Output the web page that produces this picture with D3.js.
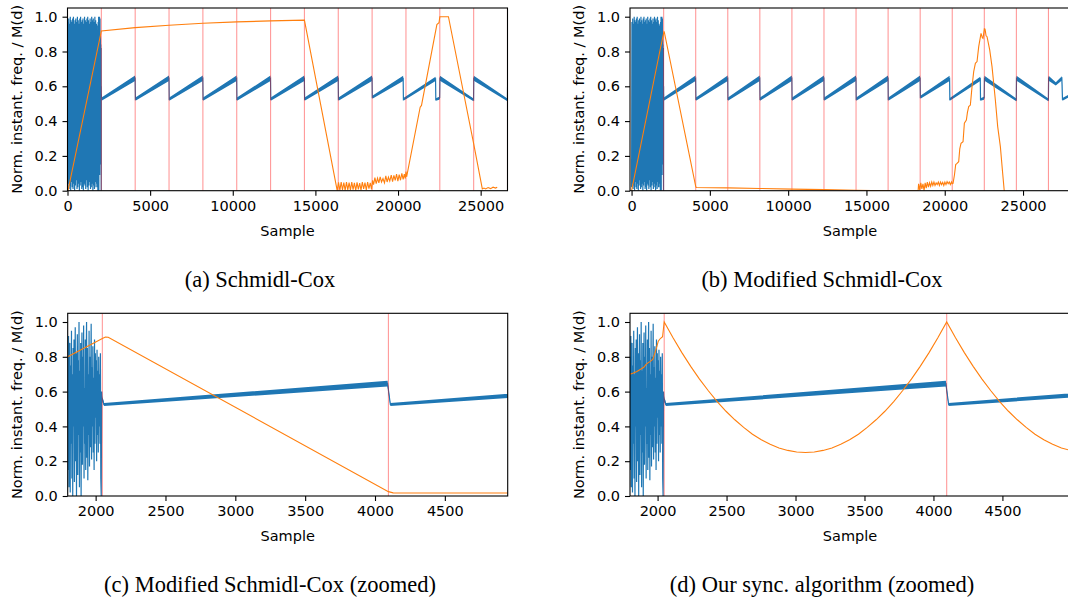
<!DOCTYPE html>
<html>
<head>
<meta charset="utf-8">
<title>sync comparison</title>
<script src="https://d3js.org/d3.v7.min.js"></script>
<style>
  body { margin: 0; background: #fff; }
  text { font-family: "DejaVu Sans", sans-serif; }
  .caption { font-family: "Liberation Serif", "Times New Roman", serif; }
</style>
</head>
<body>
<script>
// ---- data ----
var yTicks = [0, 0.2, 0.4, 0.6, 0.8, 1.0];
var xTicksFull = [0, 5000, 10000, 15000, 20000, 25000];
var xTicksZoom = [2000, 2500, 3000, 3500, 4000, 4500];
var syncMarks = [2048, 4096, 6144, 8192, 10240, 12288, 14336, 16384, 18432, 20480, 22528, 24576, 26624];
var captions = ["(a) Schmidl-Cox", "(b) Modified Schmidl-Cox",
                "(c) Modified Schmidl-Cox (zoomed)", "(d) Our sync. algorithm (zoomed)"];

// blue: noisy preamble, sampled every 24 samples from 0
var noiseEarlyStep = 24;
var noiseEarly = [0.02,0.97,0.04,0.99,0.01,0.96,0.03,1.00,0.00,0.98,
                  0.05,0.97,0.02,0.99,0.01,1.00,0.04,0.96,0.00,0.98,
                  0.03,0.99,0.06,0.97,0.01,1.00,0.02,0.98,0.04,0.96,
                  0.00,0.99,0.03,1.00,0.05,0.97,0.01,0.98,0.02,0.99,
                  0.00,0.96,0.04,1.00,0.03,0.98,0.01,0.97,0.06,0.99,
                  0.02,1.00,0.00,0.98,0.03,0.96,0.05,0.99,0.01,0.97,
                  0.02,1.00,0.04,0.98,0.00,0.99,0.03,0.97,0.01,1.00,
                  0.05,0.98,0.02,0.96,0.04];
// blue: noisy preamble tail (seen in the zoomed panels), every 3 samples from 1800
var noiseLateStart = 1800, noiseLateStep = 3;
var noiseLate = [0.80,0.15,0.92,0.05,0.60,0.88,0.02,0.75,0.30,0.95,
                 0.10,0.70,0.00,0.85,0.40,0.90,0.08,0.65,0.97,0.20,
                 0.82,0.00,0.55,0.93,0.12,0.78,0.35,1.00,0.05,0.72,
                 0.25,0.88,0.00,0.68,0.94,0.18,0.80,0.40,0.98,0.10,
                 0.62,0.30,0.90,0.15,0.76,1.00,0.22,0.85,0.09,0.70,
                 0.35,0.95,0.17,0.80,0.28,0.66,0.99,0.21,0.74,0.40,
                 0.86,0.25,0.68,0.15,0.90,0.30,0.82,0.45,0.78,0.20,
                 0.84,0.35,0.72,0.25,0.80,0.40,0.70,0.30,0.82,0.10,
                 0.00,0.60,0.55];
// blue: sawtooth band after the preamble (lower / upper edge)
var bandX  = [2048, 2060, 4090, 4110, 6140, 6156, 8188, 8204, 10236, 10252, 12284, 12300,
              14332, 14348, 16380, 16396, 18428, 18444, 20310, 20326, 22270, 22286, 22500,
              22520, 22536, 24570, 24584, 26620, 26634, 27090, 27480, 27520, 28200];
var bandLo = [0.540, 0.517, 0.630, 0.517, 0.630, 0.517, 0.630, 0.517, 0.630, 0.517, 0.630, 0.517,
              0.630, 0.517, 0.630, 0.517, 0.630, 0.528, 0.630, 0.517, 0.630, 0.517, 0.523,
              0.526, 0.632, 0.514, 0.632, 0.514, 0.632, 0.604, 0.633, 0.517, 0.549];
var bandHi = [0.575, 0.535, 0.662, 0.535, 0.662, 0.535, 0.662, 0.535, 0.662, 0.535, 0.662, 0.535,
              0.662, 0.535, 0.662, 0.535, 0.662, 0.546, 0.660, 0.533, 0.655, 0.531, 0.540,
              0.543, 0.660, 0.530, 0.660, 0.530, 0.660, 0.623, 0.658, 0.533, 0.566];

// orange: Schmidl-Cox metric
var scMetric = [[30,0.0],[2048,0.918],[4096,0.937],[6144,0.951],[8192,0.962],[10240,0.970],
  [12288,0.976],[14336,0.980],[16320,0.0],
  [16400,0.048],[16480,0.002],[16560,0.050],[16640,0.004],[16720,0.047],[16800,0.001],
  [16880,0.049],[16960,0.005],[17040,0.046],[17120,0.003],[17200,0.050],[17280,0.006],
  [17360,0.045],[17440,0.002],[17520,0.048],[17600,0.008],[17680,0.044],[17760,0.003],
  [17840,0.050],[17920,0.010],[18000,0.046],[18080,0.004],[18160,0.049],[18240,0.012],
  [18320,0.045],[18400,0.008],
  [18460,0.060],[18520,0.035],[18600,0.075],[18680,0.040],[18760,0.072],[18840,0.045],
  [18920,0.080],[19000,0.050],[19090,0.070],[19180,0.045],[19260,0.085],[19340,0.050],
  [19420,0.078],[19500,0.055],[19590,0.090],[19670,0.052],[19750,0.088],[19830,0.060],
  [19910,0.095],[19990,0.055],[20070,0.092],[20150,0.060],[20230,0.100],[20310,0.065],
  [20380,0.095],[20440,0.070],[20480,0.110],[20520,0.080],
  [21340,0.480],[21420,0.490],[22350,0.955],[22480,0.965],[22530,1.0],[23050,1.0],
  [24576,0.270],[25100,0.010],[25200,0.015],[25300,0.010],[25450,0.018],[25600,0.012],
  [25750,0.020],[25900,0.015],[26000,0.020]];

// orange: modified Schmidl-Cox metric
var modScMetric = [[0,0.0],[1800,0.800],[2048,0.905],[2070,0.914],[2090,0.912],[4096,0.025],
  [4130,0.018],[6144,0.016],[8192,0.013],[10240,0.009],[12288,0.006],[14336,0.003],
  [16384,0.0],[18300,0.0],
  [18330,0.040],[18400,0.005],[18470,0.045],[18540,0.010],[18610,0.040],[18680,0.000],
  [18750,0.045],[18820,0.015],[18890,0.050],[18960,0.020],[19030,0.045],[19100,0.025],
  [19170,0.050],[19240,0.030],[19310,0.050],[19380,0.030],[19450,0.045],[19520,0.035],
  [19590,0.050],[19660,0.030],[19730,0.050],[19800,0.035],[19870,0.048],[19940,0.030],
  [20010,0.050],[20080,0.035],[20150,0.052],[20220,0.040],[20290,0.050],[20360,0.035],
  [20430,0.050],[20480,0.040],[20531,0.042],[20620,0.090],[20700,0.150],[20785,0.157],
  [20892,0.167],[20960,0.240],[21040,0.272],[21170,0.282],[21254,0.388],[21382,0.406],
  [21450,0.450],[21531,0.483],[21637,0.492],[21744,0.598],[21850,0.684],[21957,0.732],
  [22063,0.742],[22170,0.828],[22318,0.904],[22400,0.880],[22446,0.876],[22530,0.930],
  [22574,0.928],[22640,0.890],[22702,0.885],[22872,0.809],[23020,0.713],[23233,0.521],
  [23382,0.368],[23553,0.253],[23700,0.100],[23800,0.0],[23850,0.0]];

// orange: our sync metric (zoomed)
var oursMetric = [[1800,0.700],[1820,0.705],[1850,0.715],[1880,0.730],[1900,0.740],[1915,0.755],
  [1930,0.765],[1950,0.775],[1965,0.785],[1980,0.820],[1995,0.860],[2005,0.890],[2020,0.905],
  [2036,0.915],[2048,1.0],
  [2112,0.909],[2176,0.824],[2240,0.745],[2304,0.672],[2368,0.605],[2432,0.543],[2496,0.487],
  [2560,0.438],[2624,0.394],[2688,0.355],[2752,0.323],[2816,0.297],[2880,0.276],[2944,0.262],
  [3008,0.253],[3072,0.250],[3136,0.253],[3200,0.262],[3264,0.276],[3328,0.297],[3392,0.323],
  [3456,0.355],[3520,0.394],[3584,0.438],[3648,0.487],[3712,0.543],[3776,0.605],[3840,0.672],
  [3904,0.745],[3968,0.824],[4032,0.909],[4096,1.0],
  [4160,0.909],[4224,0.824],[4288,0.745],[4352,0.672],[4416,0.605],[4480,0.543],[4544,0.487],
  [4608,0.438],[4672,0.394],[4736,0.355],[4800,0.323],[4864,0.297],[4928,0.276],[4992,0.262]];

// ---- layout ----
var W = 1068, H = 603;
var blue = "#1f77b4", orange = "#ff7f0e";
var panels = [
  {left: 67.5, top: 8,     domain: [0, 26624],    ticks: xTicksFull, metric: scMetric,    capX: 260, capY: 287},
  {left: 630,  top: 8,     domain: [-100, 28000], ticks: xTicksFull, metric: modScMetric, capX: 822, capY: 287},
  {left: 67.7, top: 313.3, domain: [1800, 4950],  ticks: xTicksZoom, metric: modScMetric, capX: 270, capY: 592},
  {left: 630,  top: 313.3, domain: [1800, 4990],  ticks: xTicksZoom, metric: oursMetric,  capX: 822, capY: 592}
];
var pw = 440, ph = 182.7;

var svg = d3.select("body").append("svg")
  .attr("width", W).attr("height", H);

// blue trace points
var bluePts = [];
noiseEarly.forEach(function(v, i){ bluePts.push([i * noiseEarlyStep, v]); });
noiseLate.forEach(function(v, i){ bluePts.push([noiseLateStart + i * noiseLateStep, v]); });
bandX.forEach(function(x, i){ bluePts.push([x, (bandLo[i] + bandHi[i]) / 2]); });
var bandPts = bandX.map(function(x, i){ return [x, bandLo[i], bandHi[i]]; });

panels.forEach(function(p, i){
  var x = d3.scaleLinear().domain(p.domain).range([0, pw]);
  var y = d3.scaleLinear().domain([0, 1.05]).range([ph, 0]);

  var g = svg.append("g").attr("transform", "translate(" + p.left + "," + p.top + ")");

  g.append("clipPath").attr("id", "clip" + i)
    .append("rect").attr("width", pw).attr("height", ph);

  var plot = g.append("g").attr("clip-path", "url(#clip" + i + ")");

  var line = d3.line().x(function(d){ return x(d[0]); }).y(function(d){ return y(d[1]); });
  var area = d3.area()
    .x(function(d){ return x(d[0]); })
    .y0(function(d){ return y(d[1]); })
    .y1(function(d){ return y(d[2]); });

  plot.append("path").datum(bandPts)
    .attr("d", area).attr("fill", blue);
  plot.append("path").datum(bluePts)
    .attr("d", line).attr("fill", "none")
    .attr("stroke", blue).attr("stroke-width", 1.2);

  plot.selectAll(".sync").data(syncMarks).enter().append("line")
    .attr("x1", function(d){ return x(d); }).attr("x2", function(d){ return x(d); })
    .attr("y1", 0).attr("y2", ph)
    .attr("stroke", "#ff0000").attr("stroke-opacity", 0.4).attr("stroke-width", 1.1);

  plot.append("path").datum(p.metric)
    .attr("d", line).attr("fill", "none")
    .attr("stroke", orange).attr("stroke-width", 1.1);

  // axes
  var xAxis = g.append("g").attr("transform", "translate(0," + ph + ")")
    .call(d3.axisBottom(x).tickValues(p.ticks).tickSize(5).tickSizeOuter(0).tickPadding(5)
      .tickFormat(d3.format("d")));
  var yAxis = g.append("g")
    .call(d3.axisLeft(y).tickValues(yTicks).tickSize(5).tickSizeOuter(0).tickPadding(5)
      .tickFormat(d3.format(".1f")));
  [xAxis, yAxis].forEach(function(a){
    a.attr("font-family", null).attr("font-size", null);
    a.selectAll("text").attr("font-size", 14.5).attr("fill", "#000");
    a.selectAll("line").attr("stroke", "#000").attr("stroke-width", 1.1);
    a.select(".domain").remove();
  });

  g.append("rect").attr("width", pw).attr("height", ph)
    .attr("fill", "none").attr("stroke", "#000").attr("stroke-width", 1.1);

  g.append("text").attr("x", pw / 2).attr("y", ph + 45)
    .attr("text-anchor", "middle").attr("font-size", 14.5).text("Sample");
  g.append("text")
    .attr("transform", "translate(-46," + (ph / 2) + ") rotate(-90)")
    .attr("text-anchor", "middle").attr("font-size", 14.5)
    .text("Norm. instant. freq. / M(d)");

  svg.append("text").attr("class", "caption")
    .attr("x", p.capX).attr("y", p.capY)
    .attr("text-anchor", "middle").attr("font-size", 22.5)
    .text(captions[i]);
});
</script>
</body>
</html>
